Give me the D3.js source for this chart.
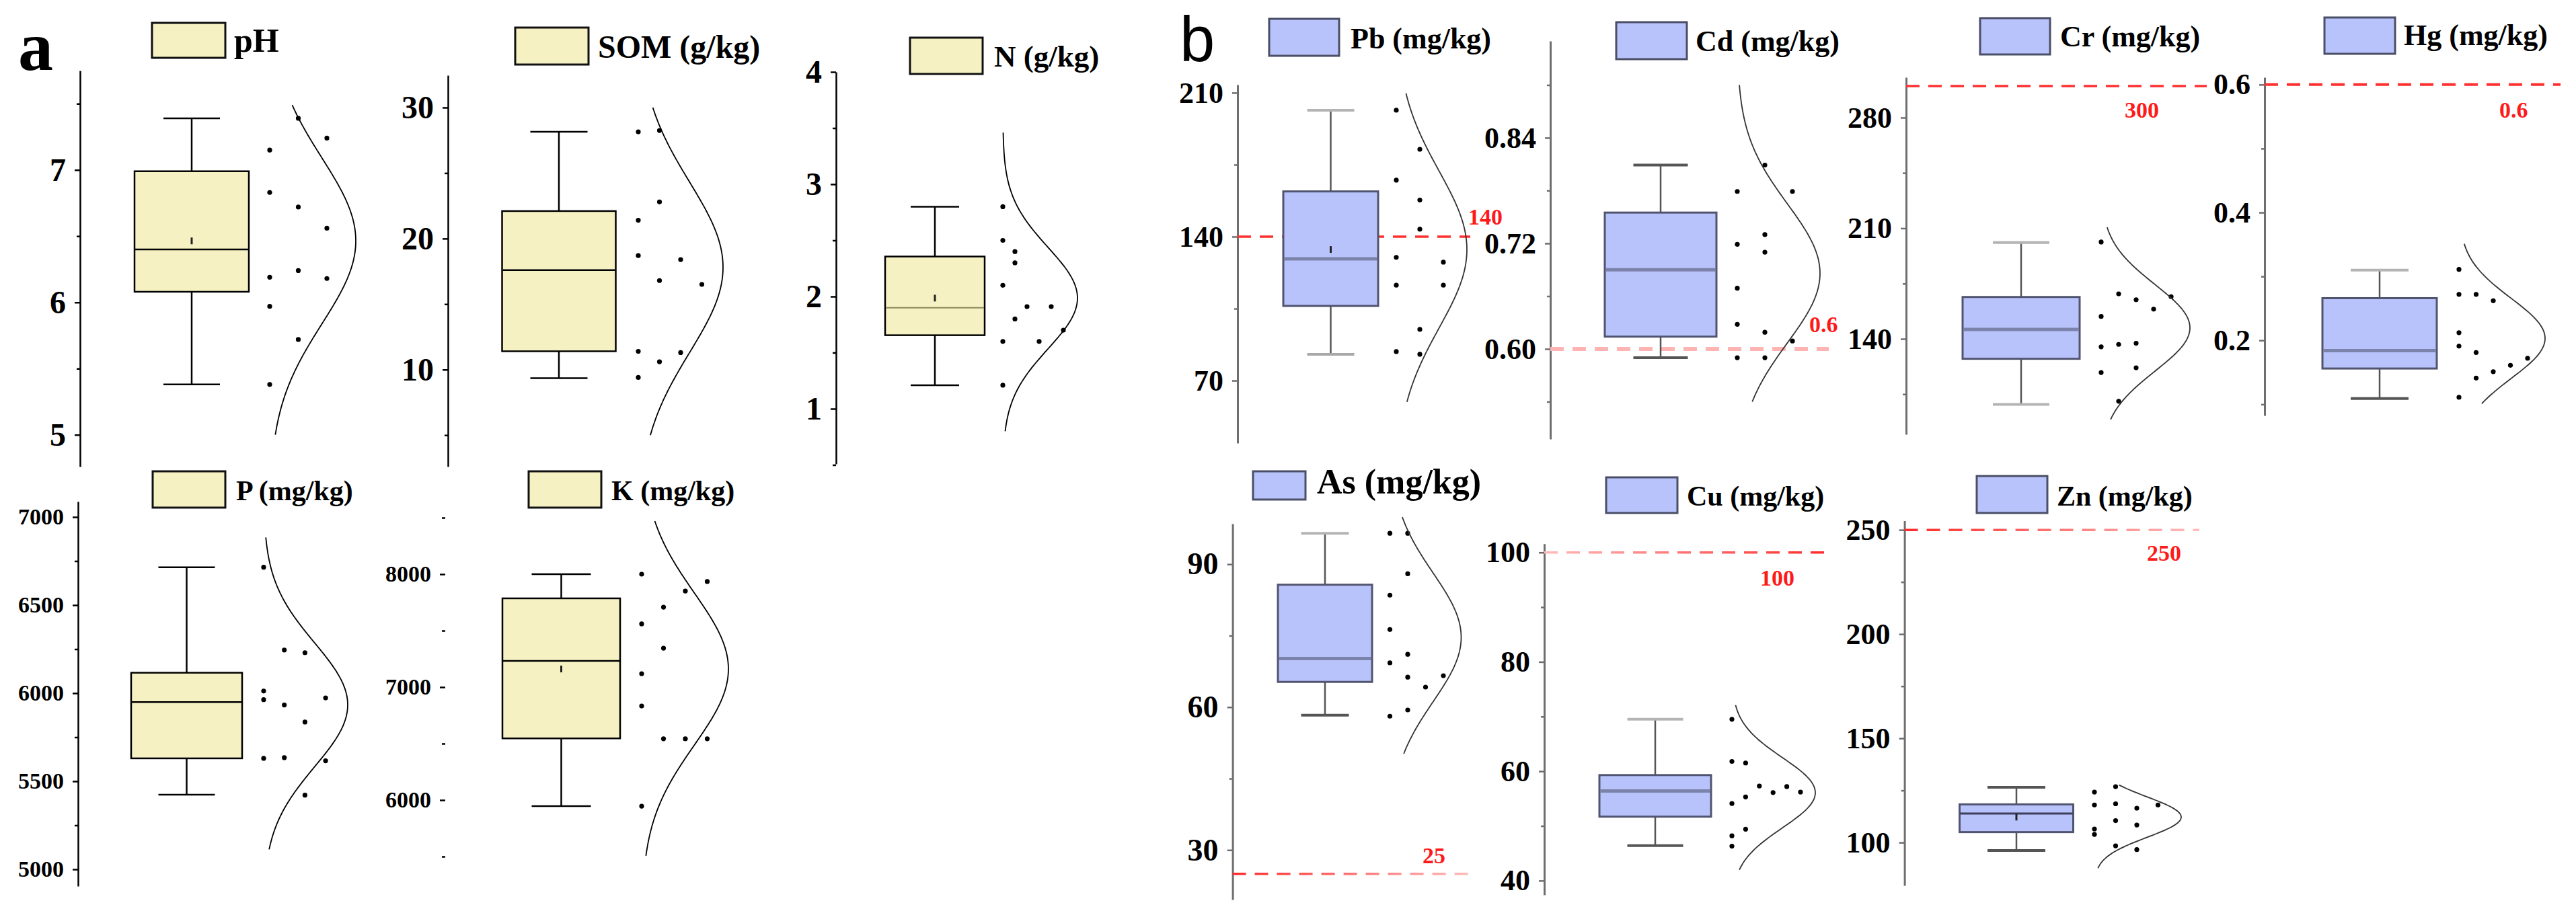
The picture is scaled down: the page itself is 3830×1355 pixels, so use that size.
<!DOCTYPE html>
<html lang="en">
<head>
<meta charset="UTF-8">
<title>soil properties and heavy metals</title>
<script src="https://d3js.org/d3.v7.min.js"></script>
<style>
  body { margin: 0; background: #fff; }
  text { font-family: 'Liberation Serif', 'Times New Roman', serif; font-weight: bold; }
</style>
</head>
<body>
<script>
// ---- values ----
// box stats: [lower whisker, Q1, median, Q3, upper whisker]
const pHStats  = [5.38, 6.08, 6.40, 6.99, 7.39];
const pHPoints = [7.39, 7.24, 7.15, 6.83, 6.72, 6.56, 6.24, 6.19, 6.18, 5.97, 5.72, 5.38];
const SOMStats  = [9.35, 11.4, 17.6, 22.1, 28.15];
const SOMPoints = [28.25, 28.15, 22.8, 21.4, 18.7, 18.4, 16.8, 16.5, 11.4, 11.3, 10.6, 9.4];
const NStats  = [1.21, 1.655, 1.90, 2.356, 2.80];
const NPoints = [2.80, 2.50, 2.40, 2.30, 2.10, 1.91, 1.91, 1.80, 1.70, 1.60, 1.60, 1.21];
const PStats  = [5424, 5630, 5949, 6116, 6715];
const PPoints = [6715, 6245, 6230, 6012, 5963, 5933, 5973, 5836, 5630, 5634, 5616, 5421];
const KStats  = [5946, 6546, 7232, 7786, 8000];
const KPoints = [8000, 7935, 7851, 7708, 7560, 7345, 7119, 6833, 6543, 6543, 6543, 5946];

const PbStats  = [82.8, 106.3, 129.2, 162, 201.5];
const PbPoints = [201.5, 182.5, 167.5, 157.8, 143.6, 129.9, 127.6, 116.4, 116.4, 94.9, 84.1, 82.8];
const CdStats  = [0.590, 0.614, 0.690, 0.755, 0.809];
const CdPoints = [0.809, 0.779, 0.779, 0.730, 0.719, 0.710, 0.669, 0.628, 0.619, 0.609, 0.590, 0.590];
const CrStats  = [98.5, 127.4, 146, 166.5, 201];
const CrPoints = [201.3, 168.5, 166.7, 164.8, 158.8, 154.2, 135, 136.5, 137.2, 118.7, 121.7, 100.5];
const HgStats  = [0.109, 0.156, 0.184, 0.266, 0.310];
const HgPoints = [0.311, 0.272, 0.272, 0.262, 0.212, 0.191, 0.181, 0.172, 0.161, 0.151, 0.141, 0.111];
const AsStats  = [58.3, 65.3, 70.2, 85.7, 96.5];
const AsPoints = [96.5, 96.5, 88.0, 83.5, 76.3, 71.1, 69.3, 66.3, 66.6, 64.2, 59.4, 58.1];
const CuStats  = [46.4, 51.7, 56.4, 59.3, 69.5];
const CuPoints = [69.5, 61.8, 61.5, 57.3, 56.1, 57.2, 56.2, 55.3, 54.1, 49.4, 48.2, 46.3];
const ZnStats  = [96.2, 105.0, 113.9, 118.3, 126.5];
const ZnPoints = [126.8, 124.2, 118.0, 118.6, 116.5, 118.0, 110.5, 108.4, 106.5, 103.9, 98.4, 96.6];

// soil limit values (red dashed lines)
const limitNames  = ['Pb', 'Cd', 'Cr', 'Hg', 'As', 'Cu', 'Zn'];
const limitValues = [140, 0.6, 300, 0.6, 25, 100, 250];

// axis ticks
const ticks = {
  pH: [[5, 6, 7], [5.5, 6.5, 7.5]],
  SOM: [[10, 20, 30], [5, 15, 25]],
  N: [[1, 2, 3, 4], [0.5, 1.5, 2.5, 3.5]],
  P: [[5000, 5500, 6000, 6500, 7000], [5250, 5750, 6250, 6750]],
  K: [[6000, 7000, 8000], [5500, 6500, 7500, 8500]],
  Pb: [[70, 140, 210], [105, 175]],
  Cd: [[0.60, 0.72, 0.84], [0.54, 0.66, 0.78, 0.90]],
  Cr: [[140, 210, 280], [105, 175, 245]],
  Hg: [[0.2, 0.4, 0.6], [0.1, 0.3, 0.5]],
  As: [[30, 60, 90], [45, 75]],
  Cu: [[40, 60, 80, 100], [50, 70, 90]],
  Zn: [[100, 150, 200, 250], [125, 175, 225]]
};

// ---- layout (pixel positions, jitter slots, styles) ----
const panels = [
  {key: 'pH', label: 'pH', stats: pHStats, pts: pHPoints, slot: [1,2,0,0,1,2,1,0,2,0,1,0],
   ax: 119, yr: [694, 105], dom: [4.76, 7.75], fmt: d3.format('d'), fs: 48,
   cx: 285, bw: 170, cw: 84, dx: 401, step: 42.5, amp: 128, curve: [5.0, 7.49],
   leg: [226, 34, 109, 52, 348, 77, 50], theme: 'a', mean: true},
  {key: 'SOM', label: 'SOM (g/kg)', stats: SOMStats, pts: SOMPoints, slot: [1,0,1,0,0,2,1,3,0,2,1,0],
   ax: 666, yr: [694, 112], dom: [2.6, 32.46], fmt: d3.format('d'), fs: 48,
   cx: 831, bw: 169, cw: 85, dx: 949, step: 31.5, amp: 126, curve: [5.0, 30.0],
   leg: [766, 41, 109, 55, 889, 86, 48], theme: 'a'},
  {key: 'N', label: 'N (g/kg)', stats: NStats, pts: NPoints, slot: [0,0,1,1,0,2,4,1,5,0,3,0],
   ax: 1243, yr: [690, 107], dom: [0.509, 4.0], fmt: d3.format('d'), fs: 48,
   cx: 1390, bw: 148, cw: 72, dx: 1491, step: 18, amp: 111, curve: [0.80, 3.46],
   leg: [1353, 56, 108, 54, 1478, 99, 45], theme: 'a', mean: true, medColor: '#8a8a5c', medW: 2},
  {key: 'P', label: 'P (mg/kg)', stats: PStats, pts: PPoints, slot: [0,1,2,0,0,1,3,2,0,1,3,2],
   ax: 116, yr: [1318, 746], dom: [4904.6, 7087.8], fmt: d3.format('d'), fs: 34,
   cx: 277.5, bw: 165, cw: 84, dx: 392, step: 30.7, amp: 125, curve: [5113, 6884],
   leg: [227, 701, 108, 54, 351, 744, 42], theme: 'a'},
  {key: 'K', label: 'K (mg/kg)', stats: KStats, pts: KPoints, slot: [0,3,2,1,0,1,0,0,1,2,3,0],
   ax: 662, yr: [1318, 746], dom: [5238, 8643], fmt: d3.format('d'), fs: 34,
   cx: 834.5, bw: 175, cw: 88, dx: 954, step: 32.5, amp: 129, curve: [5506, 8470],
   leg: [786, 701, 108, 54, 909, 744, 42], theme: 'a', mean: true, noLine: true},

  {key: 'Pb', label: 'Pb (mg/kg)', stats: PbStats, pts: PbPoints, slot: [0,1,0,1,1,0,2,0,2,1,0,1],
   ax: 1840, yr: [659, 126], dom: [39.6, 213.9], fmt: d3.format('d'), fs: 44,
   cx: 1978.5, bw: 141, cw: 70, dx: 2076, step: 35, amp: 105, curve: [59.6, 209.7],
   leg: [1887, 28, 104, 55, 2008, 72, 44], theme: 'b', mean: true, caps: ['#b4b4b4', '#a8a8a8'],
   lim: {x2: 2186, lx: 2183, ly: 334, c1: '#ff3030', c2: '#ff3030', w: 3.5}},
  {key: 'Cd', label: 'Cd (mg/kg)', stats: CdStats, pts: CdPoints, slot: [1,0,2,1,0,1,0,0,1,2,0,1],
   ax: 2305, yr: [653, 61], dom: [0.4976, 0.950], fmt: d3.format('.2f'), fs: 44,
   cx: 2469, bw: 166, cw: 81, dx: 2583, step: 41, amp: 123, curve: [0.540, 0.900],
   leg: [2403, 33, 105, 55, 2521, 76, 44], theme: 'b', caps: ['#555', '#555'],
   lim: {x2: 2719, lx: 2690, ly: 494, c1: '#ffb4b4', c2: '#ffb4b4', w: 6}},
  {key: 'Cr', label: 'Cr (mg/kg)', stats: CrStats, pts: CrPoints, slot: [0,1,4,2,3,0,0,1,2,0,2,1],
   ax: 2834, yr: [646, 115], dom: [79.6, 305.5], fmt: d3.format('d'), fs: 44,
   cx: 3005, bw: 174, cw: 84, dx: 3124, step: 26, amp: 132, curve: [89, 210.6],
   leg: [2944, 27, 104, 54, 3063, 69, 44], theme: 'b', caps: ['#b4b4b4', '#b4b4b4'],
   lim: {x2: 3281, lx: 3159, ly: 175, c1: '#ff3030', c2: '#ff3030', w: 3.5}},
  {key: 'Hg', label: 'Hg (mg/kg)', stats: HgStats, pts: HgPoints, slot: [0,0,1,2,0,0,1,4,3,2,1,0],
   ax: 3367, yr: [618, 115], dom: [0.0825, 0.6114], fmt: d3.format('.1f'), fs: 44,
   cx: 3538, bw: 170, cw: 86, dx: 3656, step: 25.5, amp: 128, curve: [0.101, 0.351],
   leg: [3456, 26, 105, 54, 3574, 67, 44], theme: 'b', caps: ['#b4b4b4', '#555'],
   lim: {x2: 3807, lx: 3716, ly: 175, c1: '#ff3030', c2: '#ff3030', w: 4}},
  {key: 'As', label: 'As (mg/kg)', stats: AsStats, pts: AsPoints, slot: [0,1,1,0,0,1,0,1,3,2,1,0],
   ax: 1832.6, yr: [1338, 779], dom: [19.6, 98.5], fmt: d3.format('d'), fs: 46,
   cx: 1970, bw: 140, cw: 71, dx: 2066.5, step: 26.5, amp: 106, curve: [50.2, 99.9],
   leg: [1863, 701, 78, 42, 1958, 734, 52], theme: 'b', caps: ['#b4b4b4', '#555'],
   lim: {x2: 2189, lx: 2115, ly: 1284, c1: '#ff2a2a', c2: '#ffbcbc', w: 3.5}},
  {key: 'Cu', label: 'Cu (mg/kg)', stats: CuStats, pts: CuPoints, slot: [0,0,1,2,3,4,5,1,0,1,0,0],
   ax: 2296, yr: [1331, 808.7], dom: [37.4, 101.6], fmt: d3.format('d'), fs: 44,
   cx: 2461, bw: 166, cw: 83, dx: 2575, step: 20.4, amp: 124, curve: [42.0, 72.1],
   leg: [2388, 710, 106, 53, 2508, 752, 42], theme: 'b', caps: ['#b4b4b4', '#555'],
   lim: {x2: 2715, lx: 2617, ly: 871, c1: '#ffbcbc', c2: '#ff2a2a', w: 3.5}},
  {key: 'Zn', label: 'Zn (mg/kg)', stats: ZnStats, pts: ZnPoints, slot: [1,0,0,1,2,3,1,2,0,0,1,2],
   ax: 2831.6, yr: [1317, 774.5], dom: [79.4, 254.4], fmt: d3.format('d'), fs: 44,
   cx: 2998, bw: 169, cw: 86, dx: 3114, step: 31.5, amp: 129, curve: [87.7, 127.6],
   leg: [2939, 708, 105, 55, 3058, 752, 42], theme: 'b', mean: true, caps: ['#555', '#555'],
   medColor: '#3c3f5c', medW: 3,
   lim: {x2: 3270, lx: 3192, ly: 834, c1: '#ff2a2a', c2: '#ffbcbc', w: 3.5}}
];

const themes = {
  a: {fill: '#f6f1c2', stroke: '#000', sw: 2.5, med: '#000', medW: 2.5, whisk: '#000', axis: '#000', curve: '#000'},
  b: {fill: '#b9c3fb', stroke: '#50546f', sw: 3, med: '#7c83ab', medW: 5, whisk: '#555', axis: '#6e6e6e', curve: '#333'}
};

const W = 3830, H = 1355;
const svg = d3.select('body').append('svg').attr('width', W).attr('height', H);
const defs = svg.append('defs');

svg.append('text').attr('x', 27).attr('y', 104).attr('font-size', 104).text('a');
svg.append('text').attr('x', 1754).attr('y', 91).attr('font-size', 94)
  .style('font-family', "'Liberation Sans', Arial, sans-serif").style('font-weight', 'normal').text('b');

panels.forEach(p => {
  const t = themes[p.theme];
  const g = svg.append('g');
  const y = d3.scaleLinear().domain(p.dom).range(p.yr);

  // axis: major ticks with labels, minor ticks without
  const [major, minor] = ticks[p.key];
  const ax = g.append('g').attr('transform', `translate(${p.ax},0)`)
    .call(d3.axisLeft(y).tickValues(major).tickFormat(p.fmt).tickSize(8).tickSizeOuter(0).tickPadding(13));
  ax.selectAll('text').attr('font-size', p.fs).attr('fill', '#000')
    .style('font-family', "'Liberation Serif', serif").style('font-weight', 'bold');
  ax.selectAll('line').attr('stroke', t.axis).attr('stroke-width', 2.5);
  ax.select('.domain').attr('stroke', t.axis).attr('stroke-width', p.theme === 'a' ? 2.5 : 3)
    .attr('display', p.noLine ? 'none' : null);
  const mi = g.append('g').attr('transform', `translate(${p.ax},0)`)
    .call(d3.axisLeft(y).tickValues(minor).tickFormat('').tickSize(5).tickSizeOuter(0));
  mi.select('.domain').remove();
  mi.selectAll('line').attr('stroke', t.axis).attr('stroke-width', 2.5);

  // limit line
  const li = limitNames.indexOf(p.key);
  if (li >= 0) {
    const L = p.lim, yl = y(limitValues[li]);
    const gid = 'lg' + p.key;
    const grad = defs.append('linearGradient').attr('id', gid)
      .attr('gradientUnits', 'userSpaceOnUse').attr('x1', p.ax).attr('x2', L.x2).attr('y1', 0).attr('y2', 0);
    grad.append('stop').attr('offset', '0%').attr('stop-color', L.c1);
    grad.append('stop').attr('offset', '100%').attr('stop-color', L.c2);
    g.append('line').attr('x1', p.ax).attr('x2', L.x2).attr('y1', yl).attr('y2', yl)
      .attr('stroke', `url(#${gid})`).attr('stroke-width', L.w).attr('stroke-dasharray', '20,13');
    g.append('text').attr('x', L.lx).attr('y', L.ly).attr('font-size', 34).attr('fill', '#ff1a1a')
      .text(limitValues[li]);
  }

  // box and whiskers
  const [lo, q1, med, q3, hi] = p.stats;
  const caps = p.caps || [t.whisk, t.whisk];
  g.append('line').attr('x1', p.cx).attr('x2', p.cx).attr('y1', y(hi)).attr('y2', y(q3))
    .attr('stroke', t.whisk).attr('stroke-width', 2.5);
  g.append('line').attr('x1', p.cx).attr('x2', p.cx).attr('y1', y(q1)).attr('y2', y(lo))
    .attr('stroke', t.whisk).attr('stroke-width', 2.5);
  [[hi, caps[0]], [lo, caps[1]]].forEach(([v, c]) => {
    g.append('line').attr('x1', p.cx - p.cw / 2).attr('x2', p.cx + p.cw / 2).attr('y1', y(v)).attr('y2', y(v))
      .attr('stroke', c).attr('stroke-width', p.theme === 'a' ? 2.5 : 4);
  });
  g.append('rect').attr('x', p.cx - p.bw / 2).attr('width', p.bw).attr('y', y(q3)).attr('height', y(q1) - y(q3))
    .attr('fill', t.fill).attr('stroke', t.stroke).attr('stroke-width', t.sw);
  g.append('line').attr('x1', p.cx - p.bw / 2 + 1).attr('x2', p.cx + p.bw / 2 - 1).attr('y1', y(med)).attr('y2', y(med))
    .attr('stroke', p.medColor || t.med).attr('stroke-width', p.medW || t.medW);
  if (p.mean) {
    const m = d3.mean(p.pts);
    g.append('rect').attr('x', p.cx - 1.5).attr('y', y(m) - 5).attr('width', 3).attr('height', 10).attr('fill', '#222');
  }

  // jittered points
  g.selectAll('circle').data(p.pts).join('circle')
    .attr('cx', (d, i) => p.dx + p.slot[i] * p.step).attr('cy', d => y(d))
    .attr('r', 3.6).attr('fill', '#000');

  // normal curve fitted to the points
  const mu = d3.mean(p.pts), sd = d3.deviation(p.pts);
  const vs = d3.range(0, 121).map(i => p.curve[0] + (p.curve[1] - p.curve[0]) * i / 120);
  const line = d3.line()
    .x(v => p.dx + p.amp * Math.exp(-0.5 * Math.pow((v - mu) / sd, 2)))
    .y(v => y(v))
    .curve(d3.curveBasis);
  g.append('path').attr('d', line(vs)).attr('fill', 'none').attr('stroke', t.curve).attr('stroke-width', 1.8);

  // legend
  const [lx, ly, lw, lh, tx, tb, tf] = p.leg;
  g.append('rect').attr('x', lx).attr('y', ly).attr('width', lw).attr('height', lh)
    .attr('fill', t.fill).attr('stroke', p.theme === 'a' ? '#111' : '#4a4e66').attr('stroke-width', 3);
  g.append('text').attr('x', tx).attr('y', tb).attr('font-size', tf).text(p.label);
});
</script>
</body>
</html>
